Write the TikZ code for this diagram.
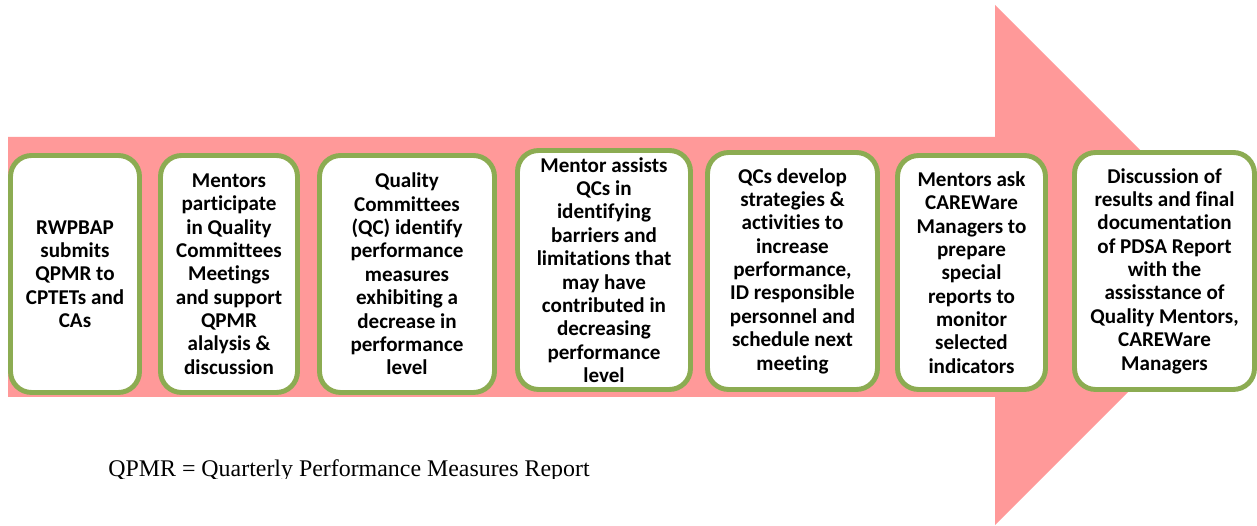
\documentclass[tikz,border=0pt]{standalone}
\usepackage{fontspec}
\setmainfont{Carlito}[Ligatures=NoCommon]
\newfontfamily\capfont{Liberation Serif}
\usepackage{tikz}
\usetikzlibrary{shapes}
\usepackage{xcolor}
\definecolor{arrowpink}{RGB}{255,153,153}
\definecolor{boxgreen}{RGB}{140,172,82}
\tikzstyle{stepbox}=[draw=boxgreen, line width=2.8pt, fill=white, rounded corners=.42cm,
	inner sep=0pt, align=center, font=\fontsize{12}{13.3}\selectfont\bfseries]
\newcommand{\nbox}[5]{
	\node[stepbox, minimum width=#3, minimum height=#4] (#1) at #2 {#5};
}

\begin{document}
\begin{tikzpicture}[x=.02cm, y=-.02cm]
	\useasboundingbox (0,0) rectangle (1257,526);
	\fill[arrowpink] (8,137) -- (995,137) -- (995,5) -- (1255,265) -- (995,525) -- (995,397) -- (8,397) -- cycle;
%
	\nbox{b1}{(75,274)}{2.58cm}{4.74cm}{RWPBAP\\ submits\\ QPMR to\\ CPTETs and\\ CAs}
	\nbox{b2}{(229,274)}{2.74cm}{4.74cm}{Mentors\\ participate\\ in Quality\\ Committees\\ Meetings\\ and support\\ QPMR\\ alalysis \&\\ discussion}
	\nbox{b3}{(407,274)}{3.5cm}{4.74cm}{Quality\\ Committees\\ (QC) identify\\ performance\\ measures\\ exhibiting a\\ decrease in\\ performance\\ level}
	\nbox{b4}{(604,270)}{3.46cm}{4.78cm}{Mentor assists\\ QCs in\\ identifying\\ barriers and\\ limitations that\\ may have\\ contributed in\\ decreasing\\ performance\\ level}
	\nbox{b5}{(792.5,271)}{3.4cm}{4.74cm}{QCs develop\\ strategies \&\\ activities to\\ increase\\ performance,\\ ID responsible\\ personnel and\\ schedule next\\ meeting}
	\nbox{b6}{(971.5,272.5)}{2.96cm}{4.68cm}{Mentors ask\\ CAREWare\\ Managers to\\ prepare\\ special\\ reports to\\ monitor\\ selected\\ indicators}
	\nbox{b7}{(1164.5,271)}{3.6cm}{4.74cm}{Discussion of\\ results and final\\ documentation\\ of PDSA Report\\ with the\\ assisstance of\\ Quality Mentors,\\ CAREWare\\ Managers}
%
	\begin{scope}
		\clip (0,0) rectangle (1257,478);
		\node[anchor=base west, inner sep=0pt, font=\capfont\fontsize{13.6}{16}\selectfont] (note) at (108,476.5) {QPMR = Quarterly Performance Measures Report};
	\end{scope}
\end{tikzpicture}
\end{document}
